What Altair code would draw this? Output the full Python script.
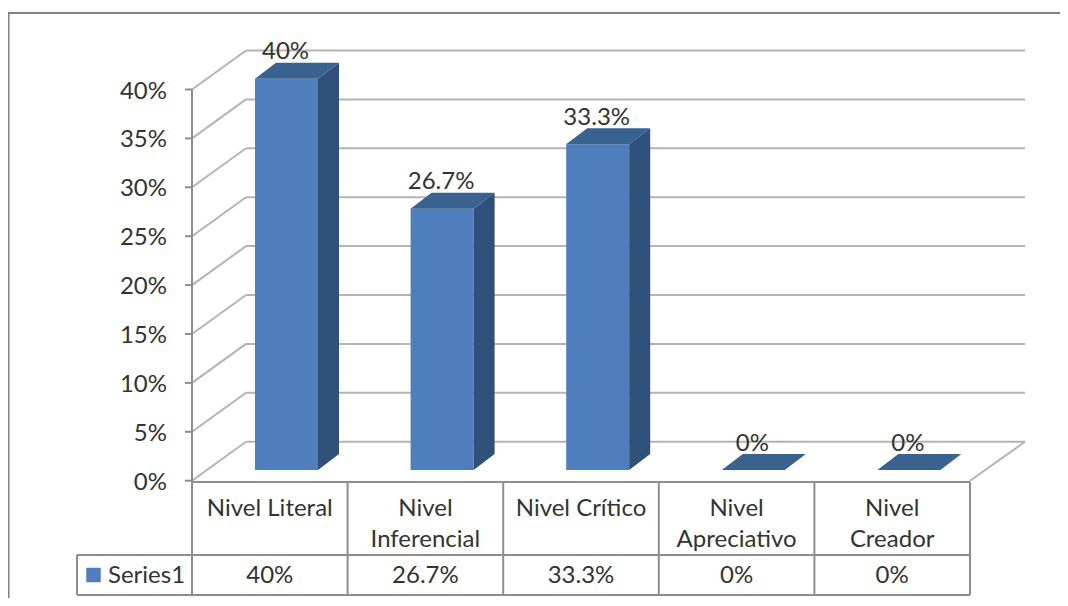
import altair as alt
import pandas as pd

# ---- values
categories = ["Nivel Literal", "Nivel Inferencial", "Nivel Crítico", "Nivel Apreciativo", "Nivel Creador"]
cat_line1 = ["Nivel Literal", "Nivel", "Nivel Crítico", "Nivel", "Nivel"]
cat_line2 = ["", "Inferencial", "", "Apreciativo", "Creador"]
values = [40, 26.7, 33.3, 0, 0]
value_labels = ["40%", "26.7%", "33.3%", "0%", "0%"]
y_ticks = [0, 5, 10, 15, 20, 25, 30, 35, 40]
series_name = "Series1"

# ---- geometry: x unit = one category, y unit = one percent
PX_X = 155.6
PX_Y = 9.78
ORIGIN_X, ORIGIN_Y = 192.0, 480.7
def ux(p): return (p - ORIGIN_X) / PX_X
def uy(p): return (ORIGIN_Y - p) / PX_Y

WALL_DX, WALL_DY = 54 / PX_X, 39 / PX_Y
BAR_L, BAR_W = ux(255), 63 / PX_X
BAR_DX, BAR_DY = 21 / PX_X, 16 / PX_Y
BAR_BASE = uy(470)
N = len(categories)

x_scale = alt.Scale(domain=[ux(8), ux(1060)], nice=False, zero=False)
y_scale = alt.Scale(domain=[uy(598), uy(8)], nice=False, zero=False)
X = lambda f: alt.X(f, type="quantitative", scale=x_scale, axis=None, title=None)
Y = lambda f: alt.Y(f, type="quantitative", scale=y_scale, axis=None, title=None)

# ---- line segments
grid = []
for t in y_ticks:
    grid.append((0, t, WALL_DX, t + WALL_DY))
    grid.append((WALL_DX, t + WALL_DY, ux(1025), t + WALL_DY))
grid.append((N, 0, ux(1025), WALL_DY))

table_top, row_top, table_bottom = uy(482), uy(555), uy(595)
table = [(0, 40, 0, table_bottom),
         (0, table_top, N, table_top),
         (ux(77), row_top, N, row_top),
         (ux(77), table_bottom, N, table_bottom),
         (ux(77), row_top, ux(77), table_bottom)]
for k in range(1, N + 1):
    table.append((k, table_top, k, table_bottom))
for t in y_ticks:
    table.append((ux(185), t, 0, t))

def seg_chart(rows, color):
    df = pd.DataFrame(rows, columns=["x0", "y0", "x1", "y1"])
    return alt.Chart(df).mark_rule(color=color, strokeWidth=2).encode(
        x=X("x0"), x2="x1", y=Y("y0"), y2="y1")

# ---- outer frame
frame_color = "#808080"
frame_top = alt.Chart(pd.DataFrame({"a": [0]})).mark_rule(color=frame_color, strokeWidth=2).encode(
    x=alt.value(0), x2=alt.value(1052), y=alt.value(5))
frame_left = alt.Chart(pd.DataFrame({"a": [0]})).mark_rule(color=frame_color, strokeWidth=3).encode(
    x=alt.value(0), y=alt.value(5), y2=alt.value(590))

# ---- bars
bars = pd.DataFrame({"bar": categories, "val": values, "label": value_labels})
bars["xl"] = [k + BAR_L for k in range(N)]
bars["xr"] = bars["xl"] + BAR_W
bars["y0"] = BAR_BASE
bars["y1"] = bars["val"] + BAR_BASE

front = alt.Chart(bars).mark_rect(color="#4e7fbc").encode(x=X("xl"), x2="xr", y=Y("y0"), y2="y1")

faces = []
for r in bars.to_dict("records"):
    side_df = pd.DataFrame({
        "px": [r["xr"], r["xr"] + BAR_DX],
        "lo": [r["y0"], r["y0"] + BAR_DY],
        "hi": [r["y1"], r["y1"] + BAR_DY]})
    top_df = pd.DataFrame({
        "py": [r["y1"], r["y1"] + BAR_DY],
        "xa": [r["xl"], r["xl"] + BAR_DX],
        "xb": [r["xr"], r["xr"] + BAR_DX]})
    faces.append(alt.Chart(side_df).mark_area(color="#2f5179", opacity=1, orient="vertical").encode(
        x=X("px"), y=Y("lo"), y2="hi"))
    faces.append(alt.Chart(top_df).mark_area(color="#3a6291", opacity=1, orient="horizontal").encode(
        y=Y("py"), x=X("xa"), x2="xb"))

# ---- text
FONT = "Lato"
SIZE = 24
TXT = "#333333"
def text_chart(df, **kw):
    return alt.Chart(df).mark_text(font=FONT, fontSize=SIZE, color=TXT, baseline="middle", **kw).encode(
        x=X("x"), y=Y("y"), text="t:N")

centers = [k + 0.5 for k in range(N)]
data_labels = text_chart(pd.DataFrame({
    "x": bars["xl"] + BAR_W / 2, "y": bars["y1"], "t": value_labels}), align="center", dx=-1, dy=-26.5)
tick_labels = text_chart(pd.DataFrame({
    "x": [0] * len(y_ticks), "y": y_ticks, "t": [f"{t}%" for t in y_ticks]}), align="right", dx=-25, dy=2)
line1 = text_chart(pd.DataFrame({"x": centers, "y": [uy(507)] * N, "t": cat_line1}), align="center", dy=1.5)
line2 = text_chart(pd.DataFrame({"x": centers, "y": [uy(538)] * N, "t": cat_line2}), align="center", dy=1.5)
row_vals = text_chart(pd.DataFrame({"x": centers, "y": [uy(574)] * N, "t": value_labels}), align="center", dy=1.5)
series = text_chart(pd.DataFrame({"x": [ux(108)], "y": [uy(574)], "t": [series_name]}), align="left", dy=1.5)
swatch = alt.Chart(pd.DataFrame({"x": [ux(93.5)], "y": [uy(575)]})).mark_point(
    shape="square", filled=True, size=210, color="#4e7fbc", opacity=1).encode(x=X("x"), y=Y("y"))

chart = alt.layer(
    frame_top, frame_left,
    seg_chart(grid, "#b4b4b4"), seg_chart(table, "#8e8e8e"),
    front, *faces,
    data_labels, tick_labels, line1, line2, row_vals, series, swatch,
).properties(width=1052, height=590, padding=0, background="white",
             autosize=alt.AutoSizeParams(type="none")
).configure_view(stroke=None)

chart.save("out.html", embed_options={"renderer": "svg", "actions": False})
